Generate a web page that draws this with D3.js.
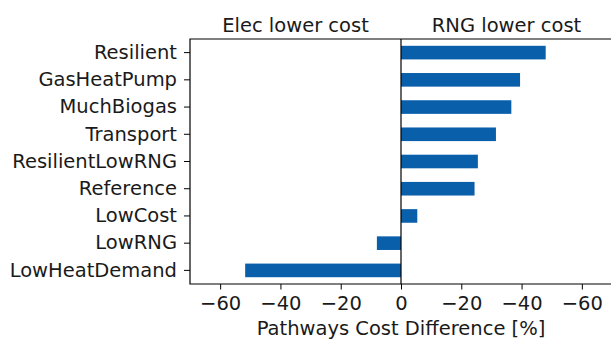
<!DOCTYPE html>
<html>
<head>
<meta charset="utf-8">
<script src="https://cdn.jsdelivr.net/npm/d3@7"></script>
<style>
  html, body { margin: 0; padding: 0; background: #fff; }
  svg text { font-family: "DejaVu Sans", sans-serif; fill: #1a1a1a; }
</style>
</head>
<body>
<svg id="chart" width="611" height="339"></svg>
<script>
// Pathway names, top to bottom
const pathways = ["Resilient", "GasHeatPump", "MuchBiogas", "Transport", "ResilientLowRNG",
                  "Reference", "LowCost", "LowRNG", "LowHeatDemand"];
// Cost difference [%]: positive = RNG lower cost, negative = Elec lower cost
const costDiff = [48, 39.5, 36.6, 31.5, 25.5, 24.4, 5.4, -8, -51.7];
// Axis tick values and the labels shown for them
const tickValues = [-60, -40, -20, 0, 20, 40, 60];
const tickLabels = ["\u221260", "\u221240", "\u221220", "0", "\u221220", "\u221240", "\u221260"];
const sideTitles = ["Elec lower cost", "RNG lower cost"];
const xTitle = "Pathways Cost Difference [%]";

const svg = d3.select("#chart");
const m = { left: 190, right: 612, top: 39, bottom: 284 };
const barColor = "#0a5fab";
const fs = 19.5;

const x = d3.scaleLinear().domain([-70, 70]).range([m.left, m.right]);
const y = d3.scaleBand().domain(pathways).range([m.top, m.bottom])
  .paddingInner(0.5).paddingOuter(0.25);

// Bars
svg.append("g").selectAll("rect")
  .data(pathways.map((p, i) => ({ p, v: costDiff[i] })))
  .join("rect")
  .attr("x", d => x(Math.min(0, d.v)))
  .attr("width", d => Math.abs(x(d.v) - x(0)))
  .attr("y", d => y(d.p))
  .attr("height", y.bandwidth())
  .attr("fill", barColor);

// Zero line
svg.append("line")
  .attr("x1", x(0)).attr("x2", x(0))
  .attr("y1", m.top).attr("y2", m.bottom)
  .attr("stroke", "#000").attr("stroke-width", 1.2);

// Bottom axis
const xAxis = d3.axisBottom(x).tickValues(tickValues)
  .tickFormat((d, i) => tickLabels[i]).tickSizeOuter(0).tickSize(5.5).tickPadding(7);
const gx = svg.append("g").attr("transform", `translate(0,${m.bottom})`).call(xAxis);
gx.select(".domain").remove();
gx.selectAll(".tick line").attr("stroke", "#000").attr("stroke-width", 1);
gx.selectAll(".tick text").attr("font-size", fs).attr("fill", "#1a1a1a")
  .attr("font-family", "DejaVu Sans, sans-serif");

// Left axis
const yAxis = d3.axisLeft(y).tickSizeOuter(0).tickSize(6).tickPadding(7);
const gy = svg.append("g").attr("transform", `translate(${m.left},0)`).call(yAxis);
gy.select(".domain").remove();
gy.selectAll(".tick line").attr("stroke", "#000").attr("stroke-width", 1);
gy.selectAll(".tick text").attr("font-size", fs).attr("fill", "#1a1a1a")
  .attr("font-family", "DejaVu Sans, sans-serif");

// Frame
svg.append("path")
  .attr("d", `M${m.right},${m.top}H${m.left}V${m.bottom}H${m.right}`)
  .attr("fill", "none").attr("stroke", "#000").attr("stroke-width", 1.2);

// Side titles above the two halves
svg.append("text").attr("x", (x(-70) + x(0)) / 2).attr("y", 32)
  .attr("text-anchor", "middle").attr("font-size", fs).text(sideTitles[0]);
svg.append("text").attr("x", (x(0) + x(70)) / 2).attr("y", 32)
  .attr("text-anchor", "middle").attr("font-size", fs).text(sideTitles[1]);

// X axis title
svg.append("text").attr("x", x(0)).attr("y", 334.5)
  .attr("text-anchor", "middle").attr("font-size", fs).text(xTitle);
</script>
</body>
</html>
